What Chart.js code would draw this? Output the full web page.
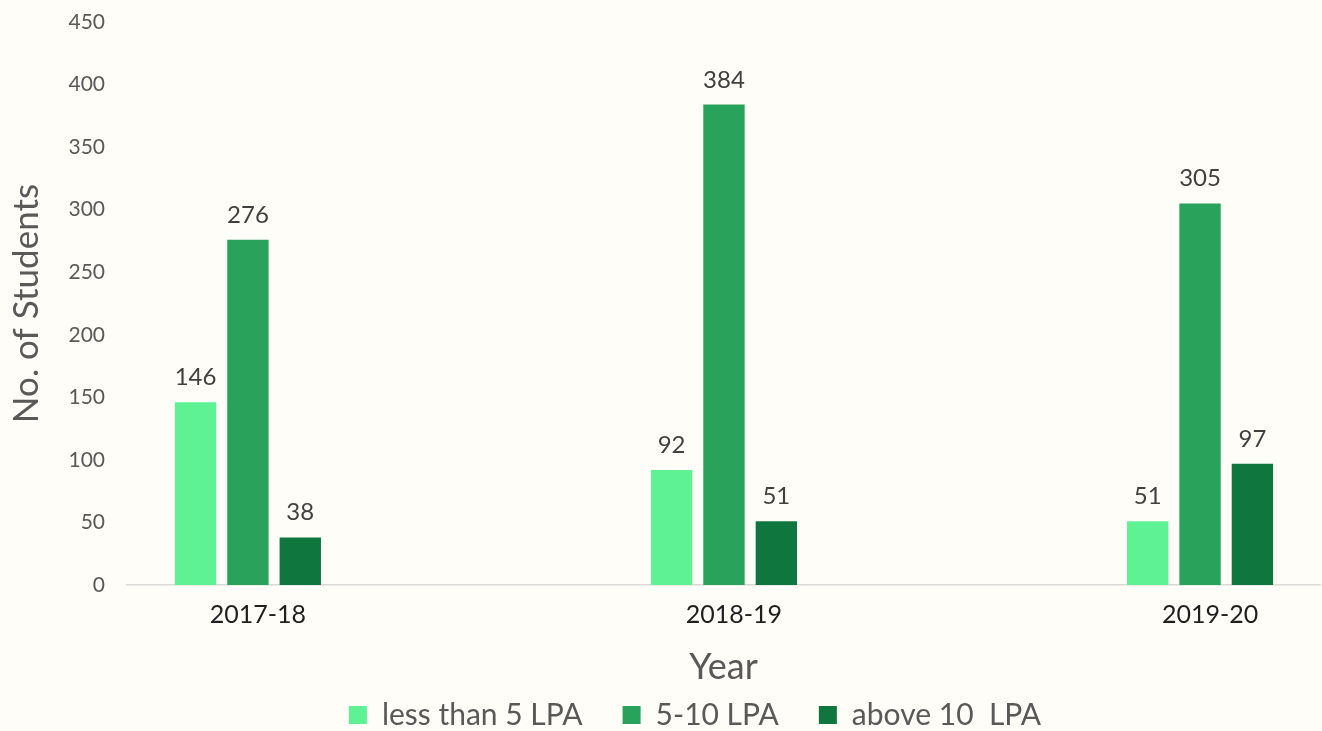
<!DOCTYPE html>
<html>
<head>
<meta charset="utf-8">
<script src="https://cdn.jsdelivr.net/npm/chart.js@4.4.1/dist/chart.umd.min.js"></script>
<style>
  html, body { margin: 0; padding: 0; background: #FFFDF7; }
  #wrap { width: 1322px; height: 731px; }
</style>
</head>
<body>
<div id="wrap"><canvas id="c" width="1322" height="731"></canvas></div>
<script>
// ---- data ----
const categories = ['2017-18', '2018-19', '2019-20'];
const seriesNames = ['less than 5 LPA', '5-10 LPA', 'above 10  LPA'];
const lessThan5 = [146, 92, 51];
const from5to10 = [276, 384, 305];
const above10 = [38, 51, 97];
const yTicks = [0, 50, 100, 150, 200, 250, 300, 350, 400, 450];

const colors = ['#5EF294', '#29A25B', '#0F773E'];
const FONT = 'Lato, "Open Sans", sans-serif';

function toPoints(arr) { return arr.map((v, i) => ({ x: i, y: v })); }

const bgPlugin = {
  id: 'bg',
  beforeDraw(chart) {
    const ctx = chart.ctx;
    ctx.save();
    ctx.fillStyle = '#FFFDF7';
    ctx.fillRect(0, 0, chart.width, chart.height);
    ctx.restore();
  }
};

// shift the legend block to the right, as in the reference
const legendShift = {
  id: 'legendShift',
  afterLayout(chart) {
    if (chart.legend) { chart.legend.left += 35; chart.legend.right += 35; }
  }
};

const labelPlugin = {
  id: 'valueLabels',
  afterDatasetsDraw(chart) {
    const ctx = chart.ctx;
    ctx.save();
    ctx.font = '24px ' + FONT;
    ctx.fillStyle = '#404040';
    ctx.textAlign = 'center';
    ctx.textBaseline = 'alphabetic';
    chart.data.datasets.forEach((ds, di) => {
      const meta = chart.getDatasetMeta(di);
      meta.data.forEach((bar, i) => {
        ctx.fillText(String(ds.data[i].y), bar.x, bar.y - 17);
      });
    });
    ctx.restore();
  }
};

new Chart(document.getElementById('c'), {
  type: 'bar',
  data: {
    datasets: [
      { label: seriesNames[0], data: toPoints(lessThan5), backgroundColor: colors[0] },
      { label: seriesNames[1], data: toPoints(from5to10), backgroundColor: colors[1] },
      { label: seriesNames[2], data: toPoints(above10), backgroundColor: colors[2] }
    ]
  },
  options: {
    responsive: false,
    animation: false,
    devicePixelRatio: 1,
    categoryPercentage: 0.33,
    barPercentage: 0.79,
    layout: { padding: { top: 22, right: 2, left: 0, bottom: -9 } },
    plugins: {
      legend: {
        position: 'bottom',
        labels: {
          font: { size: 30, family: FONT },
          color: '#595959',
          boxWidth: 18,
          boxHeight: 18,
          padding: 40
        }
      },
      tooltip: { enabled: false }
    },
    scales: {
      x: {
        type: 'linear',
        min: -0.254,
        max: 2.252,
        offset: false,
        grid: { display: false, drawTicks: false },
        border: { display: true, color: '#D9D9D9', width: 1.5 },
        afterBuildTicks(scale) { scale.ticks = categories.map((_, i) => ({ value: i })); },
        afterFit(scale) { scale.height = 75; scale.paddingLeft = 0; scale.paddingRight = 0; },
        ticks: {
          padding: 15,
          labelOffset: 10,
          color: '#1F1F1F',
          font: { size: 25, family: FONT },
          autoSkip: false,
          maxRotation: 0,
          callback: (v) => categories[v] ?? ''
        },
        title: {
          display: true,
          text: 'Year',
          color: '#595959',
          font: { size: 36, family: FONT },
          padding: { top: 0, bottom: -29 }
        }
      },
      y: {
        min: 0,
        max: 450,
        grid: { display: false, drawTicks: false },
        border: { display: false },
        afterBuildTicks(scale) { scale.ticks = yTicks.map(v => ({ value: v })); },
        afterFit(scale) { scale.width = 127; scale.paddingTop = 0; scale.paddingBottom = 0; },
        ticks: {
          padding: 22,
          color: '#595959',
          font: { size: 21, family: FONT }
        },
        title: {
          display: true,
          text: 'No. of Students',
          color: '#595959',
          font: { size: 35, family: FONT },
          padding: { top: 6, bottom: 0 }
        }
      }
    }
  },
  plugins: [bgPlugin, legendShift, labelPlugin]
});
</script>
</body>
</html>
